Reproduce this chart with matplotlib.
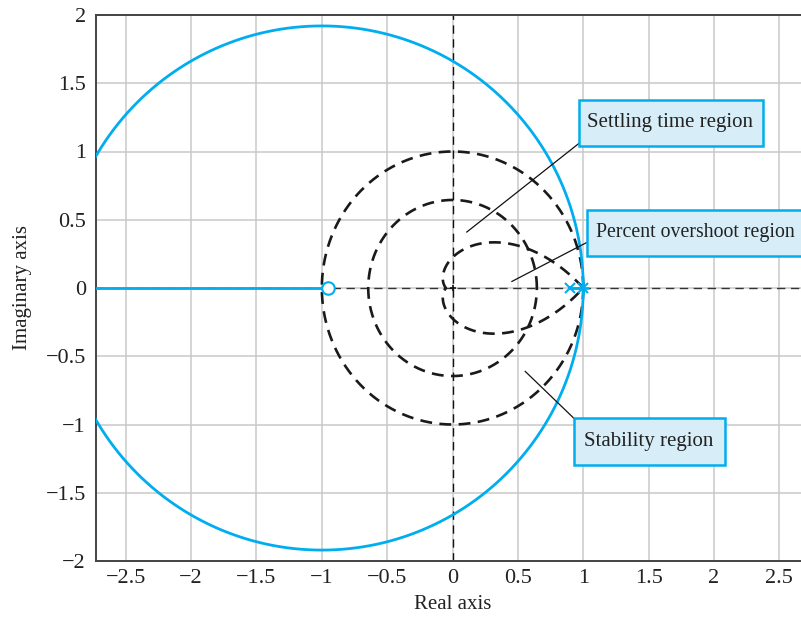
import numpy as np
import matplotlib
matplotlib.use("Agg")
import matplotlib.pyplot as plt
from matplotlib.patches import Rectangle

# ---- data ----
x_ticks = [-2.5, -2, -1.5, -1, -0.5, 0, 0.5, 1, 1.5, 2, 2.5]
x_tick_labels = ["\u22122.5", "\u22122", "\u22121.5", "\u22121", "\u22120.5", "0", "0.5", "1", "1.5", "2", "2.5"]
y_ticks = [-2, -1.5, -1, -0.5, 0, 0.5, 1, 1.5, 2]
y_tick_labels = ["\u22122", "\u22121.5", "\u22121", "\u22120.5", "0", "0.5", "1", "1.5", "2"]

open_loop_zeros = [-0.95]
open_loop_poles = [0.90, 1.0]
closed_loop_marks = [1.0]

# root-locus loop: centre, horizontal and vertical half-widths
locus_center = -1.0
locus_half_width = 2.0
locus_half_height = 1.92

unit_circle_radius = 1.0
settling_radius = 0.645
damping_ratio = 0.69

labels = ["Settling time region", "Percent overshoot region", "Stability region"]
label_sizes = [15, 14.3, 15]
label_pos = [(1.032, 1.209), (1.099, 0.406), (1.007, -1.127)]
# box extents: (left, bottom, right, top)
box_extent = [(0.970, 1.041, 2.378, 1.377), (1.032, 0.238, 3.0, 0.573), (0.930, -1.298, 2.085, -0.956)]
leader_from = [(0.969, 1.061), (1.028, 0.334), (0.930, -0.956)]
leader_to = [(0.109, 0.410), (0.454, 0.048), (0.556, -0.611)]

BLUE = "#00AEEF"
BOXFILL = "#D7EEF9"

plt.rcParams["font.family"] = ["Liberation Serif", "DejaVu Serif"]

fig = plt.figure(figsize=(8.01, 6.17), dpi=100)
ax = fig.add_axes([95.7 / 801, 1 - 561 / 617, (809.4 - 95.7) / 801, (561 - 15) / 617])
ax.set_xlim(-2.73, 2.73)
ax.set_ylim(-2, 2)

ax.set_xticks(x_ticks)
ax.set_xticklabels(x_tick_labels)
ax.set_yticks(y_ticks)
ax.set_yticklabels(y_tick_labels)
ax.tick_params(length=0, labelsize=16, colors="#222222")
ax.tick_params(axis="y", pad=7)
ax.tick_params(axis="x", pad=6)
ax.grid(True, color="#c9c9c9", lw=1.1)
ax.set_axisbelow(True)
for s in ax.spines.values():
    s.set_color("#444444")
    s.set_linewidth(1.4)

ax.set_xlabel("Real axis", fontsize=15, color="#222222", labelpad=5)
ax.set_ylabel("Imaginary axis", fontsize=15, color="#222222", labelpad=10)

# dashed real / imaginary axes
ax.axhline(0, color="#333333", lw=1.0, dashes=(6, 4), zorder=2)
ax.axvline(0, color="#111111", lw=1.0, dashes=(6, 4), zorder=2)

# unit circle (stability) and settling-time circle
t = np.linspace(0, 2 * np.pi, 721)
thick_dash = (4.5, 2.8)
ax.plot(unit_circle_radius * np.cos(t), unit_circle_radius * np.sin(t),
        color="#1a1a1a", lw=1.9, dashes=thick_dash, zorder=3)
ax.plot(settling_radius * np.cos(t), settling_radius * np.sin(t),
        color="#1a1a1a", lw=1.9, dashes=thick_dash, zorder=3)

# constant damping-ratio curve (percent overshoot)
k = damping_ratio / np.sqrt(1 - damping_ratio ** 2)
th = np.linspace(0, np.pi, 400)
zr = np.exp(-k * th) * np.cos(th)
zi = np.exp(-k * th) * np.sin(th)
ax.plot(np.concatenate([zr, zr[::-1]]), np.concatenate([zi, -zi[::-1]]),
        color="#1a1a1a", lw=1.9, dashes=thick_dash, zorder=3)

# root locus
ax.plot(locus_center + locus_half_width * np.cos(t),
        locus_half_height * np.sin(t), color=BLUE, lw=2.0, zorder=5)
ax.plot([-2.73, open_loop_zeros[0]], [0, 0], color=BLUE, lw=2.0, zorder=5)
ax.plot(open_loop_poles, [0, 0], color=BLUE, lw=2.0, zorder=5)

ax.plot(open_loop_zeros, [0] * len(open_loop_zeros), "o", ms=9, mfc="white",
        mec=BLUE, mew=1.5, zorder=6)
ax.plot(open_loop_poles, [0] * len(open_loop_poles), "x", ms=7, color=BLUE,
        mew=1.5, zorder=6)
ax.plot(closed_loop_marks, [0] * len(closed_loop_marks), "+", ms=9, color=BLUE,
        mew=1.8, zorder=6)
ax.plot([0], [0], "+", ms=5, color="#111111", mew=1.2, zorder=6)

# annotation boxes with leader lines
for txt, fs, (tx, ty), (l, b, r, tp), (x0, y0), (x1, y1) in zip(
        labels, label_sizes, label_pos, box_extent, leader_from, leader_to):
    ax.plot([x0, x1], [y0, y1], color="#111111", lw=0.9, zorder=7)
    ax.add_patch(Rectangle((l, b), r - l, tp - b, fc=BOXFILL, ec=BLUE, lw=1.8,
                           zorder=8, clip_on=False))
    ax.text(tx, ty, txt, fontsize=fs, color="#222222", ha="left", va="center",
            zorder=9)

fig.savefig("out.png", dpi=100)
